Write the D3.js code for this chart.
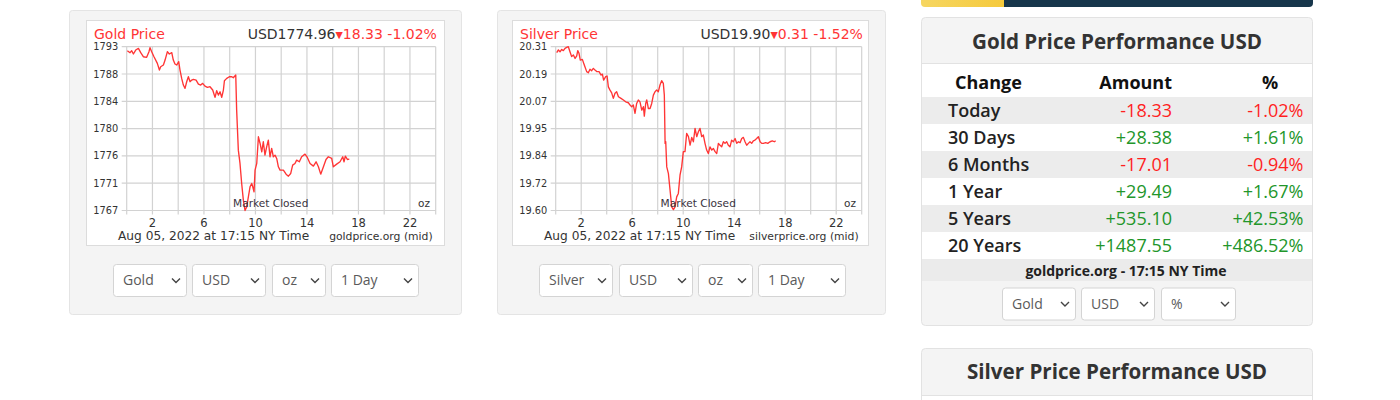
<!DOCTYPE html>
<html><head><meta charset="utf-8">
<script src="https://cdn.jsdelivr.net/npm/d3@7"></script>
<style>
html,body{margin:0;padding:0;background:#fff;width:1400px;height:400px;overflow:hidden}
svg{display:block}
</style></head><body>
<svg id="page" width="1400" height="400"></svg>
<script>
// ---------------- DATA ----------------
const hourTicks = [0,2,4,6,8,10,12,14,16,18,20,22,24];
const hourLabels = [2,6,10,14,18,22];

const goldHours = [0.05,0.26,0.39,0.52,0.70,0.91,1.09,1.29,1.55,1.73,1.81,1.94,2.12,2.38,2.54,2.64,2.85,2.98,3.16,3.31,3.50,3.62,3.75,3.88,4.04,4.14,4.27,4.40,4.53,4.66,4.79,4.92,5.05,5.18,5.39,5.57,5.75,5.90,6.08,6.27,6.47,6.68,6.86,6.99,7.12,7.25,7.38,7.51,7.59,7.77,7.97,8.16,8.28,8.47,8.54,8.67,8.80,8.93,9.06,9.19,9.32,9.45,9.58,9.71,9.79,9.89,9.97,10.10,10.23,10.36,10.49,10.61,10.74,10.87,11.00,11.13,11.26,11.39,11.52,11.65,11.78,11.91,12.17,12.38,12.56,12.74,12.89,13.07,13.20,13.41,13.59,13.85,14.03,14.24,14.50,14.71,14.89,15.07,15.28,15.48,15.66,15.92,16.05,16.31,16.57,16.78,16.88,16.98,17.14,17.29];
const goldPrices = [1792.36,1792.05,1792.36,1791.84,1792.47,1792.74,1792.05,1791.41,1791.31,1792.21,1792.84,1792.21,1791.41,1790.35,1789.29,1789.82,1790.09,1790.88,1792.21,1791.84,1792.05,1790.88,1790.25,1790.09,1790.62,1789.29,1787.97,1786.91,1786.38,1787.44,1788.23,1787.44,1787.70,1787.81,1787.70,1787.07,1786.91,1787.18,1786.75,1786.54,1786.65,1786.12,1784.95,1786.01,1785.32,1785.85,1784.95,1786.12,1787.60,1787.97,1788.23,1788.23,1788.08,1788.50,1782.94,1776.58,1774.47,1771.29,1768.64,1767.00,1767.58,1769.17,1770.76,1771.29,1770.76,1769.97,1773.41,1774.47,1778.70,1777.64,1776.32,1777.91,1775.79,1777.11,1778.17,1775.53,1776.85,1775.53,1775.79,1775.26,1773.94,1773.41,1773.41,1772.77,1772.45,1772.88,1774.20,1774.47,1775.00,1774.73,1775.53,1775.95,1775.42,1774.47,1774.04,1774.73,1773.94,1772.77,1773.94,1775.10,1775.53,1775.26,1773.94,1774.36,1774.73,1775.53,1774.73,1775.63,1775.10,1775.15];
const goldDomain = [1767, 1793];
const goldTickLabels = ["1767","1771","1776","1780","1784","1788","1793"];

const silverHours = [0.08,0.21,0.34,0.47,0.60,0.73,0.86,0.99,1.12,1.25,1.39,1.52,1.65,1.73,1.83,1.93,2.09,2.25,2.43,2.56,2.69,2.82,2.95,3.08,3.22,3.40,3.56,3.66,3.76,3.92,4.03,4.13,4.26,4.39,4.52,4.65,4.78,4.92,5.12,5.31,5.49,5.70,5.83,5.96,6.09,6.22,6.35,6.48,6.61,6.75,6.88,6.95,7.06,7.14,7.27,7.40,7.53,7.66,7.79,7.92,8.05,8.18,8.31,8.44,8.52,8.58,8.63,8.71,8.84,8.97,9.10,9.23,9.36,9.49,9.62,9.75,9.88,10.01,10.14,10.27,10.41,10.54,10.67,10.80,10.93,11.06,11.19,11.32,11.45,11.58,11.71,11.84,11.97,12.10,12.24,12.37,12.50,12.63,12.76,12.89,13.02,13.15,13.28,13.41,13.54,13.67,13.80,13.93,14.07,14.20,14.33,14.46,14.59,14.72,14.85,14.98,15.11,15.24,15.37,15.50,15.63,15.76,15.90,16.03,16.16,16.29,16.47,16.63,16.81,16.99,17.15,17.25];
const silverPrices = [20.284,20.296,20.288,20.298,20.293,20.303,20.307,20.310,20.288,20.267,20.274,20.259,20.270,20.293,20.281,20.252,20.255,20.230,20.202,20.197,20.212,20.206,20.216,20.209,20.202,20.202,20.187,20.191,20.165,20.180,20.183,20.136,20.122,20.110,20.086,20.108,20.115,20.093,20.086,20.079,20.071,20.067,20.057,20.050,20.057,20.021,20.064,20.079,20.071,20.035,20.050,20.009,20.064,20.079,20.042,20.042,20.064,20.100,20.115,20.122,20.115,20.144,20.163,20.151,20.100,19.891,19.898,19.789,19.760,19.688,19.616,19.604,19.616,19.659,19.674,19.753,19.789,19.855,19.855,19.934,19.920,19.883,19.917,19.898,19.956,19.920,19.941,19.956,19.920,19.927,19.891,19.862,19.847,19.876,19.862,19.869,19.855,19.847,19.891,19.883,19.876,19.898,19.891,19.898,19.883,19.876,19.905,19.898,19.912,19.891,19.898,19.894,19.912,19.917,19.898,19.883,19.891,19.898,19.891,19.902,19.905,19.912,19.920,19.898,19.891,19.891,19.894,19.891,19.898,19.902,19.898,19.902];
const silverDomain = [19.60, 20.31];
const silverTickLabels = ["19.60","19.72","19.84","19.95","20.07","20.19","20.31"];

const perfLabels = ["Today","30 Days","6 Months","1 Year","5 Years","20 Years"];
const perfAmounts = ["-18.33","+28.38","-17.01","+29.49","+535.10","+1487.55"];
const perfPercents = ["-1.02%","+1.61%","-0.94%","+1.67%","+42.53%","+486.52%"];

// ---------------- DRAW ----------------
const svg = d3.select("#page");
const CF = "'DejaVu Sans', Verdana, sans-serif";
const PF = "'Open Sans', sans-serif";
const RED = "#ff3535";

function drawSelect(g, x, y, w, h, label){
  const s = g.append("g").attr("transform", `translate(${x},${y})`);
  s.append("rect").attr("x",0.5).attr("y",0.5).attr("width",w-1).attr("height",h-1)
    .attr("rx",3).attr("fill","#fff").attr("stroke","#d4d4d4");
  s.append("text").attr("x",10).attr("y",h/2).attr("dy","0.35em")
    .attr("font-family",PF).attr("font-size",14).attr("fill","#5a5a5a").text(label);
  const cx = w-11, cy = h/2;
  s.append("path").attr("d",`M${cx-4},${cy-2}L${cx},${cy+2}L${cx+4},${cy-2}`)
    .attr("fill","none").attr("stroke","#444").attr("stroke-width",1.4);
}

function drawChart(o){
  svg.append("rect").attr("x",o.px+0.5).attr("y",10.5).attr("width",o.pw-1).attr("height",304)
    .attr("rx",3).attr("fill","#f4f4f4").attr("stroke","#e4e4e4");
  svg.append("rect").attr("x",o.bx+0.5).attr("y",20.5).attr("width",o.bw-1).attr("height",225)
    .attr("fill","#fff").attr("stroke","#dcdcdc");
  const g = svg.append("g");
  const top = 46.7, bottom = 210.5;
  const x = d3.scaleLinear().domain([0,24]).range([o.pl, o.pr]);
  const y = d3.scaleLinear().domain(o.domain).range([bottom, top]);
  const yTicks = d3.range(7).map(i => o.domain[0] + i*(o.domain[1]-o.domain[0])/6);
  g.selectAll(".vg").data(hourTicks).enter().append("line")
    .attr("x1",d=>x(d)).attr("x2",d=>x(d)).attr("y1",top).attr("y2",bottom+4)
    .attr("stroke","#d2d2d2").attr("stroke-width",1.2);
  g.selectAll(".hg").data(yTicks).enter().append("line")
    .attr("x1",o.pl-5).attr("x2",o.pr).attr("y1",d=>y(d)).attr("y2",d=>y(d))
    .attr("stroke","#d2d2d2").attr("stroke-width",1.2);
  g.selectAll(".yl").data(yTicks).enter().append("text")
    .attr("x",o.pl-8.4).attr("y",d=>y(d)).attr("dy","0.36em").attr("text-anchor","end")
    .attr("font-family",CF).attr("font-size",9.8).attr("fill","#333")
    .text((d,i)=>o.tickLabels[i]);
  g.selectAll(".xl").data(hourLabels).enter().append("text")
    .attr("x",d=>x(d)).attr("y",227.3).attr("text-anchor","middle")
    .attr("font-family",CF).attr("font-size",11.5).attr("fill","#333").text(d=>d);
  const pts = o.hours.map((h,i)=>[h,o.prices[i]]);
  g.append("path").datum(pts)
    .attr("d", d3.line().x(d=>x(d[0])).y(d=>y(d[1])))
    .attr("fill","none").attr("stroke",RED).attr("stroke-width",1.35).attr("stroke-linejoin","round");
  const mid = (o.pl+o.pr)/2 - 10.5;
  g.append("text").attr("x",mid).attr("y",206.5).attr("text-anchor","middle")
    .attr("font-family",CF).attr("font-size",10.6).attr("fill","#3a3340").text("Market Closed");
  g.append("text").attr("x",o.pr-5.7).attr("y",206.5).attr("text-anchor","end")
    .attr("font-family",CF).attr("font-size",10.5).attr("fill","#333").text("oz");
  g.append("text").attr("x",o.bx+8).attr("y",38.5)
    .attr("font-family",CF).attr("font-size",14).attr("fill",RED).text(o.title);
  const t = g.append("text").attr("x",o.pr+1.2).attr("y",38.5).attr("text-anchor","end")
    .attr("font-family",CF).attr("font-size",14);
  t.append("tspan").attr("fill","#333").text(o.price);
  t.append("tspan").attr("fill",RED).attr("font-size",9.5).attr("dy",-1).text("\u25BC");
  t.append("tspan").attr("fill",RED).attr("dy",1).text(o.change);
  g.append("text").attr("x",o.bx+32).attr("y",239.5)
    .attr("font-family",CF).attr("font-size",12.2).attr("fill","#333").text("Aug 05, 2022 at 17:15 NY Time");
  g.append("text").attr("x",o.pr-3).attr("y",239.5).attr("text-anchor","end")
    .attr("font-family",CF).attr("font-size",10.8).attr("fill","#333").text(o.source);
  o.selects.forEach(s => drawSelect(svg, s[0], 264, s[1], 33, s[2]));
}

drawChart({px:69, pw:393, bx:86, bw:359, pl:126.7, pr:435.7, domain:goldDomain, tickLabels:goldTickLabels,
  hours:goldHours, prices:goldPrices, title:"Gold Price", price:"USD1774.96", change:"18.33 -1.02%",
  source:"goldprice.org (mid)",
  selects:[[113,74,"Gold"],[192,74,"USD"],[272,54,"oz"],[331,88,"1 Day"]]});
drawChart({px:497, pw:389, bx:512, bw:357, pl:555.7, pr:861.7, domain:silverDomain, tickLabels:silverTickLabels,
  hours:silverHours, prices:silverPrices, title:"Silver Price", price:"USD19.90", change:"0.31 -1.52%",
  source:"silverprice.org (mid)",
  selects:[[539,74,"Silver"],[619,74,"USD"],[698,55,"oz"],[758,88,"1 Day"]]});

// ---------------- RIGHT PANEL ----------------
const defs = svg.append("defs");
const grad = defs.append("linearGradient").attr("id","yel").attr("x1","0").attr("x2","1");
grad.append("stop").attr("offset","0").attr("stop-color","#f6d661");
grad.append("stop").attr("offset","1").attr("stop-color","#f5c93a");
svg.append("rect").attr("x",1000).attr("y",-6).attr("width",313).attr("height",13).attr("rx",4).attr("fill","#17364b");
svg.append("rect").attr("x",921).attr("y",-6).attr("width",88).attr("height",13).attr("rx",4).attr("fill","url(#yel)");
svg.append("rect").attr("x",1004).attr("y",-6).attr("width",10).attr("height",13).attr("fill","#17364b");

const R = svg.append("g");
R.append("rect").attr("x",921.5).attr("y",17.5).attr("width",391).attr("height",308).attr("rx",4)
  .attr("fill","#f4f4f4").attr("stroke","#e2e2e2");
R.append("text").attr("x",1117).attr("y",48.5).attr("text-anchor","middle")
  .attr("font-family",PF).attr("font-weight",700).attr("font-size",20.6).attr("fill","#333")
  .text("Gold Price Performance USD");
R.append("rect").attr("x",922).attr("y",63).attr("width",390).attr("height",196).attr("fill","#fff");
R.append("line").attr("x1",922).attr("x2",1312).attr("y1",63.5).attr("y2",63.5).attr("stroke","#e2e2e2");
const hdr = [["Change",955,"start"],["Amount",1172,"end"],["%",1270,"middle"]];
hdr.forEach(h => R.append("text").attr("x",h[1]).attr("y",88.5).attr("text-anchor",h[2])
  .attr("font-family",PF).attr("font-weight",700).attr("font-size",18).attr("fill","#111").text(h[0]));
const rows = R.selectAll(".row").data(perfLabels).enter().append("g")
  .attr("transform",(d,i)=>`translate(0,${97+27*i})`);
rows.append("rect").attr("x",922).attr("width",390).attr("height",27)
  .attr("fill",(d,i)=> i%2===0 ? "#ececec" : "#fff");
rows.append("text").attr("x",948).attr("y",20).attr("font-family",PF).attr("font-weight",600)
  .attr("font-size",18).attr("fill","#222").text(d=>d);
const col = v => v[0]==="-" ? "#ff1f1f" : "#22962a";
rows.append("text").attr("x",1172).attr("y",20).attr("text-anchor","end").attr("font-family",PF)
  .attr("font-weight",500).attr("font-size",18).attr("fill",(d,i)=>col(perfAmounts[i])).text((d,i)=>perfAmounts[i]);
rows.append("text").attr("x",1303.5).attr("y",20).attr("text-anchor","end").attr("font-family",PF)
  .attr("font-weight",500).attr("font-size",18).attr("fill",(d,i)=>col(perfPercents[i])).text((d,i)=>perfPercents[i]);
R.append("rect").attr("x",922).attr("y",259).attr("width",390).attr("height",22).attr("fill","#ebebeb");
R.append("text").attr("x",1126).attr("y",275.5).attr("text-anchor","middle").attr("font-family",PF)
  .attr("font-weight",700).attr("font-size",14).attr("fill","#222").text("goldprice.org - 17:15 NY Time");
[[1002,74,"Gold"],[1081,74,"USD"],[1161,75,"%"]].forEach(s => drawSelect(R, s[0], 287.5, s[1], 33, s[2]));

R.append("rect").attr("x",921.5).attr("y",348.5).attr("width",391).attr("height",80).attr("rx",4)
  .attr("fill","#f4f4f4").attr("stroke","#e2e2e2");
R.append("rect").attr("x",922).attr("y",395).attr("width",390).attr("height",30).attr("fill","#fff");
R.append("line").attr("x1",922).attr("x2",1312).attr("y1",395.5).attr("y2",395.5).attr("stroke","#e2e2e2");
R.append("text").attr("x",1117).attr("y",379).attr("text-anchor","middle")
  .attr("font-family",PF).attr("font-weight",700).attr("font-size",20.6).attr("fill","#333")
  .text("Silver Price Performance USD");
</script>
</body></html>
